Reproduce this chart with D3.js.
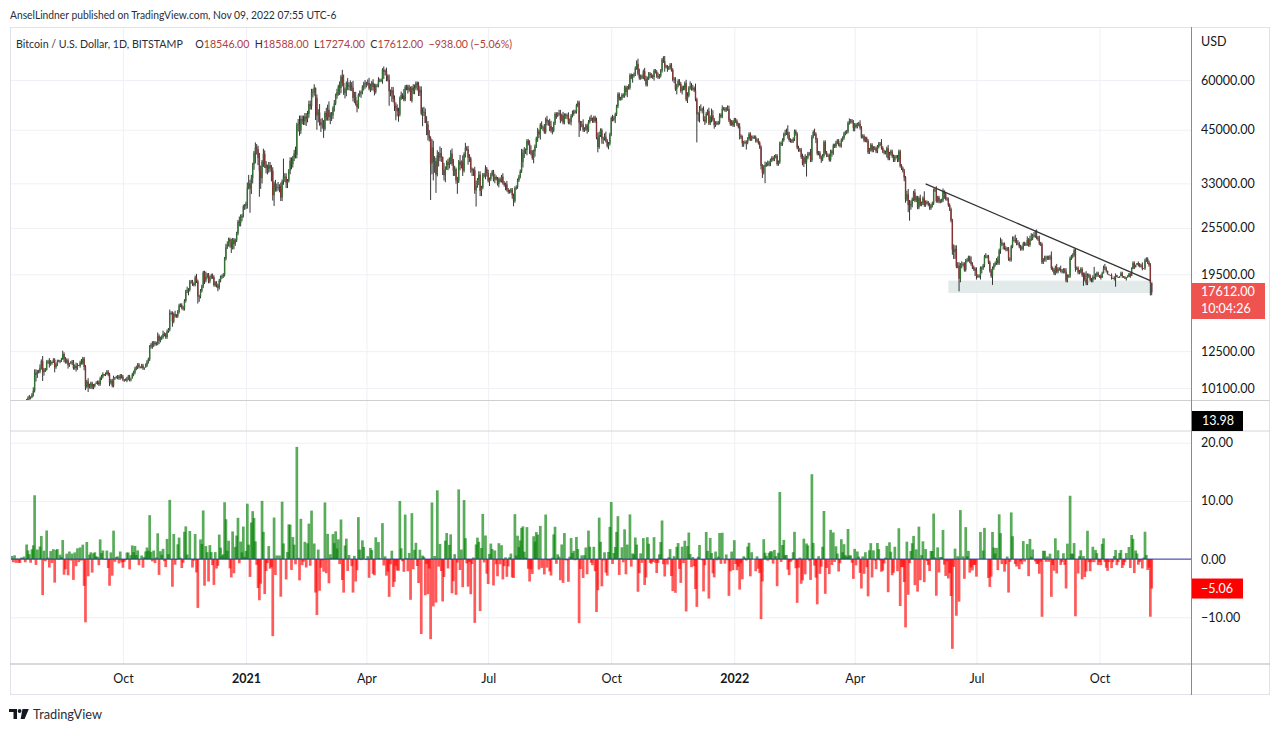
<!DOCTYPE html>
<html><head><meta charset="utf-8">
<script src="https://cdn.jsdelivr.net/npm/d3@7/dist/d3.min.js"></script>
<style>
html,body{margin:0;padding:0;background:#fff;}
svg{display:block;font-family:Lato,"Noto Sans",sans-serif;}
</style></head><body>
<svg id="chart" width="1280" height="731"></svg>
<script>
// ---------- DATA ----------
const startDate = "2020-07-09";
// daily closes (USD), one row per month
const closes = [
// 2020 Jul 9-31
9240,9290,9240,9300,9240,9250,9190,9130,9155,9170,9210,9160,9390,9530,9610,9550,9710,9940,11030,10920,11100,11110,11350,
// Aug
11800,11070,11230,11190,11740,11770,11600,11760,11680,11880,11400,11580,11780,11770,11860,11900,12290,11960,11750,11860,11530,11680,11650,11760,11340,11470,11330,11540,11480,11710,11680,
// Sep
11970,11420,10180,10480,10170,10250,10370,10130,10230,10350,10400,10440,10330,10680,10790,10950,10940,10930,11090,10920,10420,10540,10240,10740,10690,10730,10780,10700,10840,10780,
// Oct
10620,10570,10550,10670,10790,10600,10670,10920,11050,11300,11380,11550,11430,11430,11500,11330,11370,11520,11750,11920,12820,12980,12930,13120,13030,13070,13650,13280,13460,13560,13800,
// Nov
13750,13560,14030,14150,15590,15580,14840,15480,15330,15310,15700,16280,16320,16070,15970,16720,17660,17800,17820,18680,18690,18420,18370,19160,18720,17150,17140,17720,18180,19700,
// Dec
18800,19220,19450,18700,19150,19380,19180,18330,18550,18250,18040,18800,19170,19280,19440,21340,22800,23130,23860,23480,22740,23820,23240,23730,24690,26440,26250,27040,27350,28880,28990,
// 2021 Jan
29400,32200,33000,31990,34000,36800,39400,40600,40200,38200,35500,34000,37400,39150,36800,36050,35800,36600,36000,35500,30800,33000,32100,32300,32300,32500,30400,33400,34300,34300,33100,
// Feb
33500,35500,37600,36900,38300,39250,38900,46400,46500,44800,47900,47400,47200,48600,47900,49200,52200,51600,55900,55900,57400,54100,48900,49700,47000,46300,46200,45200,
// Mar
49600,48400,50500,48400,48800,48900,51000,52400,54900,55900,57800,57300,61200,59000,55600,56900,58900,57700,58100,58100,57400,54100,54400,52300,51300,55000,55900,55800,57600,58800,58800,
// Apr
58700,59000,57100,58200,59100,57600,56000,58100,58100,59800,59900,59900,63600,62900,63200,61400,60100,56200,55700,56500,53800,51700,51100,50100,49100,54000,55000,54800,53600,57700,
// May
57800,56600,57200,53200,57400,56400,57300,58900,58200,55800,56700,49400,49700,49900,46800,46400,43600,42900,37000,40600,37300,37500,34700,38800,38300,39300,38500,35700,34600,35700,37300,
// Jun
36700,37600,39200,36900,35500,35800,33600,33400,37400,36700,37300,35500,39100,40500,40200,38300,38100,35800,35500,35600,31700,32500,33700,34700,31600,32200,34700,34500,35900,35000,
// Jul
33500,33800,34700,35300,33700,34200,33900,32900,33800,33500,34300,33100,32700,32800,31800,31400,31500,31800,30800,29800,32100,32300,33600,34300,35400,37300,39400,39900,40000,42200,41500,
// Aug
39900,39200,38200,39700,40900,42800,44600,43800,46300,45600,45600,44400,47800,47100,47000,46000,44700,44800,46700,49300,48900,49300,49500,47700,48900,46900,49000,48900,48800,46900,47100,
// Sep
48800,49300,50000,49900,51800,52700,46900,46100,46400,44900,45200,46100,44900,47100,48100,47800,47300,48300,47300,43000,40700,43600,44900,42800,42700,43200,42200,41000,41500,43800,
// Oct
48100,47700,48200,49200,51500,55300,53800,53900,55000,54700,57500,56000,57400,57300,61700,60900,61500,62000,64300,65900,62200,60700,61300,60900,63100,60300,58400,60600,62200,61800,61300,
// Nov
61000,63300,62900,61400,61000,61500,63300,67500,66900,64900,64800,64200,64400,65500,63600,60100,60400,56900,58100,59700,58700,56300,57500,57100,58900,53600,54800,57300,57800,57000,
// Dec
57200,56500,53600,49200,49400,50600,50600,50500,47700,47200,49400,50100,46700,48400,48900,47700,46200,46800,46700,46900,49000,48600,50800,50800,50400,50800,50700,47500,46500,47100,46200,
// 2022 Jan
47700,47300,46400,45800,43400,43100,41600,41800,41900,41800,42700,43900,42600,43100,43100,43100,42200,42400,41700,40700,36500,35100,36300,36700,36900,36800,37200,37700,38200,37900,38500,
// Feb
38700,36900,37300,41600,41400,42400,43800,44100,44400,43600,42400,42200,42100,42600,44600,43900,40600,40000,40100,38400,37000,38300,37300,38300,39200,39100,37700,43200,
// Mar
44400,43900,42500,39200,39400,38400,37900,38700,41900,39400,38800,38800,37800,39700,39300,41100,40900,41800,42200,41300,41000,42400,42900,44000,44300,44500,46800,47100,47400,47100,45500,
// Apr
46300,45800,46400,46600,45500,43200,43400,42300,42800,42200,39500,40100,41200,39900,40500,40400,39700,40800,41500,41400,40500,39700,39400,39500,40400,38100,39200,39700,38600,37700,
// May
38500,38500,37700,39700,36500,36000,35500,34100,30100,31000,29100,28900,29300,30100,31300,29900,30400,28700,30300,29200,29400,30300,29100,29600,29500,29200,28600,29000,29400,31700,31800,
// Jun
29800,30400,29700,29800,29900,31400,31100,30200,30100,29100,28400,26600,22500,22200,22600,20400,20500,19000,20600,20600,20700,20000,21100,21200,21500,21000,20700,20300,20100,19900,
// Jul
19300,19300,19300,20200,20200,20500,21600,21600,21600,20900,19900,19300,20200,20600,20800,21200,20800,22400,23400,23200,23200,22700,22500,22600,21300,21200,22900,23800,23800,23600,23300,
// Aug
23300,22900,22800,22600,23300,23200,23200,23800,23100,23900,24000,24400,24400,24300,24100,23900,23300,23200,20900,21200,21500,21400,21500,21400,21600,20200,20000,19600,20300,19800,20100,
// Sep
20100,19900,19800,20000,19800,18800,19300,19300,21400,21600,21800,22400,20200,20200,19700,19800,20100,19400,19500,18900,18500,19400,19300,18900,18800,19200,19100,19400,19600,19400,
// Oct
19300,19100,19600,20300,20200,19900,19500,19400,19400,19100,19000,19100,19400,19200,19100,19300,19600,19300,19100,19000,19200,19200,19600,19300,20100,20800,20300,20600,20800,20600,20500,
// Nov 1-9
20480,20150,20200,21150,21300,20900,20590,18550,17612
];
// upper wick, % above the candle body
const wickHi = [
1,0,1,1,0,1,0,1,0,1,1,0,1,1,1,0,1,2,2,2,1,1,2,
1,3,1,1,1,1,2,1,0,1,1,1,1,1,0,1,2,1,1,1,1,0,1,1,1,1,2,1,0,1,2,
1,1,1,1,2,1,1,1,1,0,1,1,1,1,1,1,0,1,1,1,1,1,1,1,0,1,1,1,1,1,
1,0,1,1,1,1,0,1,1,1,1,1,1,0,1,1,0,1,1,1,1,1,2,1,1,1,2,1,1,1,2,
1,1,1,1,2,1,1,1,2,1,1,1,1,1,1,1,1,2,1,1,1,1,1,1,2,1,1,1,1,1,
1,3,1,1,1,1,1,1,1,1,1,1,1,1,1,1,2,2,1,1,2,1,1,1,1,1,3,2,1,1,1,
1,3,5,2,2,1,1,3,2,2,3,3,1,3,2,2,2,2,2,2,2,1,2,2,3,1,2,1,11,2,2,
1,1,2,2,1,2,4,1,3,5,2,2,3,2,2,2,2,2,2,2,2,0,2,2,5,2,4,3,
1,3,3,5,2,2,1,2,1,2,1,3,1,4,5,1,1,3,2,3,2,4,3,3,2,1,1,1,1,1,2,
1,2,3,1,1,2,2,1,1,2,1,1,1,2,1,2,1,3,1,2,2,2,2,2,2,1,2,1,4,1,
1,1,2,1,1,2,2,1,1,2,2,2,3,3,2,4,2,3,1,5,4,3,2,3,2,4,3,0,4,2,1,
2,2,2,3,3,2,1,2,1,4,1,4,1,3,1,2,2,1,1,1,2,3,1,2,2,1,1,1,2,1,
2,1,1,1,1,2,1,1,1,1,1,2,1,1,2,1,1,1,1,1,1,1,1,1,1,8,2,2,1,1,1,
2,3,2,1,1,1,2,1,1,2,1,2,1,2,1,2,3,2,1,1,1,1,2,2,1,2,1,1,1,2,2,
1,2,1,1,1,1,1,1,2,3,1,1,1,1,1,2,1,1,1,2,3,2,1,1,1,2,3,1,1,1,
1,2,1,1,1,1,1,1,1,1,1,1,1,2,1,1,1,1,1,2,3,3,1,1,1,2,2,1,1,1,1,
1,1,1,1,2,1,1,1,2,3,1,1,1,1,1,1,1,1,1,1,1,1,1,1,1,2,2,1,3,2,
2,1,4,1,1,2,3,1,2,2,1,1,2,1,4,3,1,1,1,1,1,1,2,1,1,1,2,2,1,1,1,
1,1,1,1,2,1,1,1,1,1,1,1,1,1,1,1,1,1,1,1,1,1,1,2,1,2,1,1,1,1,1,
1,1,1,1,1,1,1,2,2,4,2,1,1,1,1,1,1,1,1,1,2,1,2,1,1,1,3,1,
1,2,1,1,1,1,1,1,1,1,1,1,1,1,1,1,1,1,1,1,1,1,1,1,1,1,1,2,1,1,1,
1,1,1,1,2,1,1,1,1,1,1,1,1,1,1,1,1,1,1,1,3,1,1,1,1,2,1,1,1,1,
1,1,1,1,1,1,1,1,1,2,3,3,2,1,1,2,1,1,1,2,1,1,4,1,1,1,1,1,1,1,1,
2,1,1,1,1,2,1,1,1,1,1,1,1,3,2,2,2,2,1,2,1,1,1,1,1,1,3,1,1,1,
2,1,1,1,1,1,1,2,1,1,1,1,1,1,1,1,2,1,3,2,1,1,1,1,1,1,1,2,2,3,2,
2,1,1,1,1,1,1,2,1,2,3,1,2,3,4,1,2,1,1,1,1,1,1,1,1,3,1,1,1,2,1,
1,2,1,1,1,2,1,1,1,1,1,1,1,1,1,1,1,1,1,1,5,1,1,1,1,1,6,1,1,1,
0,1,1,1,2,1,0,0,0,1,0,1,1,0,0,0,1,1,0,1,0,1,0,0,1,1,1,0,0,1,1,
1,2,0,1,1,1,1,1,0
];
// lower wick, % below the candle body
const wickLo = [
1,1,0,1,1,0,1,1,1,0,1,1,0,1,1,1,0,1,1,4,2,1,1,
1,5,2,1,0,1,2,1,1,0,3,1,1,0,1,1,0,2,1,1,2,1,0,1,1,1,2,1,0,1,1,
1,2,2,1,3,1,2,1,1,1,0,1,1,1,1,1,1,1,0,1,2,1,1,1,1,0,1,1,1,1,
1,1,0,1,1,1,1,0,1,1,1,1,1,1,1,1,1,0,1,1,1,1,2,1,1,1,1,2,1,1,1,
1,1,1,1,1,1,3,1,1,1,1,1,1,1,1,1,1,1,3,1,1,1,1,1,1,4,3,1,1,1,
2,1,1,1,1,1,1,1,1,1,2,1,1,1,1,1,1,1,1,3,3,1,3,1,1,1,2,2,2,1,2,
2,3,1,13,3,3,3,6,3,4,14,6,3,3,2,3,3,2,2,6,3,6,2,2,2,3,2,2,2,3,3,
3,1,2,3,2,2,2,2,4,3,2,2,2,2,4,2,2,2,2,3,2,12,8,4,2,4,2,5,
1,2,2,2,4,3,2,2,1,2,2,4,3,2,1,3,4,2,2,3,2,2,3,1,3,1,1,3,1,2,3,
2,1,1,2,3,2,2,1,1,1,1,1,2,4,2,3,1,8,2,5,2,3,7,3,4,1,1,2,1,1,
2,2,1,0,1,2,2,1,3,2,2,1,7,2,0,6,3,2,19,6,10,6,10,1,5,2,3,3,3,4,0,
3,2,2,1,3,3,2,7,1,3,2,3,1,2,1,4,2,2,3,3,2,9,1,3,3,3,1,1,2,2,
1,3,1,1,1,2,1,1,2,1,1,1,1,3,1,1,1,1,2,3,1,1,1,1,1,1,3,3,2,3,1,
2,1,1,3,3,1,2,2,3,1,2,1,1,2,2,3,1,2,1,1,2,1,1,2,1,1,1,2,2,1,1,
2,1,1,1,1,1,8,3,1,1,1,1,2,1,1,1,1,1,1,1,3,1,1,3,3,1,1,1,2,1,
1,1,1,3,1,1,1,1,1,1,1,2,3,1,1,1,3,1,1,1,1,1,1,1,1,1,1,1,1,2,1,
1,2,1,1,1,1,1,1,1,3,1,2,1,1,1,1,2,1,3,1,1,1,2,1,1,1,2,1,1,1,
1,1,1,15,4,5,1,2,1,2,1,1,1,1,3,1,2,1,1,1,1,1,1,1,1,1,1,1,1,1,1,
1,1,1,1,2,1,2,2,1,4,1,1,1,1,1,1,1,1,1,1,2,3,1,9,1,1,1,2,1,1,1,
1,1,1,1,1,1,1,1,1,2,1,1,1,1,1,1,1,1,1,1,1,2,1,8,1,1,1,1,
1,1,2,1,1,1,2,1,1,1,1,1,1,1,2,1,1,1,1,1,1,1,1,1,1,1,1,1,1,1,2,
2,1,1,1,1,1,1,1,1,1,1,1,1,1,1,1,1,1,1,1,1,1,1,1,3,1,1,1,1,1,
1,1,1,1,1,1,1,2,2,1,4,8,2,2,1,1,1,1,1,1,1,1,1,1,1,1,1,1,1,1,1,
1,1,1,1,1,1,3,1,1,1,1,1,3,4,4,1,1,7,2,2,1,1,1,1,1,1,1,1,1,3,
2,1,1,2,3,1,1,1,1,1,1,1,5,1,1,1,1,1,2,1,3,1,1,1,1,1,1,1,1,1,1,
1,1,2,1,1,1,1,1,1,1,1,1,1,1,1,1,1,1,1,1,1,2,1,1,1,1,1,1,1,1,1,
1,1,1,1,1,1,1,1,1,1,1,1,2,1,1,1,1,1,6,1,1,1,1,1,1,1,1,1,1,1,
1,1,0,0,1,1,0,0,0,1,0,1,5,0,0,0,0,1,0,0,1,0,0,1,0,0,1,0,0,1,1,
1,1,0,1,1,1,1,7,2
];
const lastBar = {open:18546, high:18588, low:17274, close:17612, change:-938, pct:-5.06};
const priceTicks = [60000,45000,33000,25500,19500,12500,10100];
const pctTicks = [20,10,0,-10];
const timeTicks = ["2020-10-01","2021-01-01","2021-04-01","2021-07-01","2021-10-01","2022-01-01","2022-04-01","2022-07-01","2022-10-01"];
const timeTickLabels = ["Oct","2021","Apr","Jul","Oct","2022","Apr","Jul","Oct"];
const boldTickLabels = ["2021","2022"];
const trendLine = [["2022-05-24",32900],["2022-11-08",18800]];
const supportZone = {from:"2022-06-10", to:"2022-11-10", low:17500, high:18800};
const headerText = "AnselLindner published on TradingView.com, Nov 09, 2022 07:55 UTC-6";
const symbolText = "Bitcoin / U.S. Dollar, 1D, BITSTAMP";
const paneValue = 13.98;
const countdown = "10:04:26";

// ---------- BUILD ----------
const parse = d3.utcParse("%Y-%m-%d");
const t0 = parse(startDate);
const data = closes.map((c,i)=>({date:d3.utcDay.offset(t0,i), close:c}));
for (let i=1;i<data.length;i++){
  const d=data[i], o=closes[i-1];
  d.open=o;
  d.high=Math.max(o,d.close)*(1+(wickHi[i]||0)/100);
  d.low=Math.min(o,d.close)*(1-(wickLo[i]||0)/100);
  d.pct=(d.close-o)/o*100;
}
const last=data[data.length-1];
last.open=lastBar.open; last.high=lastBar.high; last.low=lastBar.low;
const bars=data.slice(1);

const L=10, R=1191, FR=1270, TOP=27, P1B=400.5, P3T=431, AXT=664, BOT=695;
const x = d3.scaleUtc().domain([parse("2021-01-01"), parse("2022-01-01")]).range([246, 734.3]);
const y = d3.scaleLog().domain([10100,60000]).range([388,80]);
const yp = d3.scaleLinear().domain([-10,20]).range([617.3,442.7]);

const svg=d3.select("#chart");
const defs=svg.append("defs");
defs.append("clipPath").attr("id","cp1").append("rect").attr("x",L).attr("y",TOP).attr("width",R-L).attr("height",P1B-TOP);
defs.append("clipPath").attr("id","cp3").append("rect").attr("x",L).attr("y",P3T).attr("width",R-L).attr("height",AXT-P3T);

const gridColor="#eef0f5";
// vertical grid
svg.append("g").attr("transform",`translate(0,${AXT})`)
  .call(d3.axisBottom(x).tickValues(timeTicks.map(parse)).tickSize(-(AXT-TOP)).tickFormat(""))
  .call(g=>{g.select(".domain").remove(); g.selectAll("line").attr("stroke",gridColor);});
// horizontal grid, price pane
svg.append("g").attr("transform",`translate(${L},0)`)
  .call(d3.axisLeft(y).tickValues(priceTicks).tickSize(-(R-L)).tickFormat(""))
  .call(g=>{g.select(".domain").remove(); g.selectAll("line").attr("stroke",gridColor);});
// horizontal grid, oscillator pane
svg.append("g").attr("transform",`translate(${L},0)`)
  .call(d3.axisLeft(yp).tickValues(pctTicks).tickSize(-(R-L)).tickFormat(""))
  .call(g=>{g.select(".domain").remove(); g.selectAll("line").attr("stroke",gridColor);});

// support zone
const pg=svg.append("g").attr("clip-path","url(#cp1)");
pg.append("rect")
  .attr("x",x(parse(supportZone.from))).attr("width",x(parse(supportZone.to))-x(parse(supportZone.from)))
  .attr("y",y(supportZone.high)).attr("height",y(supportZone.low)-y(supportZone.high))
  .attr("fill","#e2eaea");
// candles
pg.append("g").selectAll("line").data(bars).join("line")
  .attr("x1",d=>x(d.date)).attr("x2",d=>x(d.date))
  .attr("y1",d=>y(d.high)).attr("y2",d=>y(d.low))
  .attr("stroke","#1e1e1e").attr("stroke-width",0.9);
pg.append("g").selectAll("rect").data(bars).join("rect")
  .attr("x",d=>x(d.date)-0.7).attr("width",1.4)
  .attr("y",d=>y(Math.max(d.open,d.close)))
  .attr("height",d=>Math.max(0.8,y(Math.min(d.open,d.close))-y(Math.max(d.open,d.close))))
  .attr("fill",d=>d.close>=d.open?"#2f732f":"#843434");
// trend line
pg.append("line")
  .attr("x1",x(parse(trendLine[0][0]))).attr("y1",y(trendLine[0][1]))
  .attr("x2",x(parse(trendLine[1][0]))).attr("y2",y(trendLine[1][1]))
  .attr("stroke","#333").attr("stroke-width",1.3);

// histogram
const hg=svg.append("g").attr("clip-path","url(#cp3)");
hg.selectAll("rect").data(bars).join("rect")
  .attr("x",d=>x(d.date)-1.35).attr("width",2.7)
  .attr("y",d=>yp(Math.max(0,d.pct)))
  .attr("height",d=>Math.abs(yp(d.pct)-yp(0)))
  .attr("fill",d=>d.pct>=0?"rgba(0,128,0,0.65)":"rgba(255,0,0,0.65)");
hg.append("line").attr("x1",L).attr("x2",R).attr("y1",yp(0)).attr("y2",yp(0))
  .attr("stroke","#2b2f9e").attr("stroke-width",1);

// frame & separators
svg.append("rect").attr("x",L+0.5).attr("y",TOP+0.5).attr("width",FR-L-1).attr("height",BOT-TOP-1)
  .attr("fill","none").attr("stroke","#e0e3eb");
svg.append("line").attr("x1",L).attr("x2",FR).attr("y1",P1B).attr("y2",P1B).attr("stroke","#d0d0d0");
svg.append("line").attr("x1",L).attr("x2",FR).attr("y1",P3T).attr("y2",P3T).attr("stroke","#d6d6d6");
svg.append("line").attr("x1",L).attr("x2",FR).attr("y1",AXT).attr("y2",AXT).attr("stroke","#b2b5be");
svg.append("line").attr("x1",R+0.5).attr("x2",R+0.5).attr("y1",TOP).attr("y2",BOT).attr("stroke","#8a8a8a");

const txt="#131722", fs="12.5px";
// price axis
svg.append("g").attr("transform",`translate(${R},0)`)
  .call(d3.axisRight(y).tickValues(priceTicks).tickSize(0).tickPadding(10).tickFormat(d3.format(".2f")))
  .call(g=>{g.select(".domain").remove(); g.selectAll("text").attr("fill",txt).style("font-size",fs).style("font-family","Lato");});
svg.append("text").attr("x",R+10).attr("y",42).attr("dy","0.35em").attr("fill",txt).style("font-size",fs).text("USD");
// oscillator axis
svg.append("g").attr("transform",`translate(${R},0)`)
  .call(d3.axisRight(yp).tickValues(pctTicks).tickSize(0).tickPadding(10).tickFormat(d3.format(".2f")))
  .call(g=>{g.select(".domain").remove(); g.selectAll("text").attr("fill",txt).style("font-size",fs).style("font-family","Lato");});
// time axis
svg.append("g").attr("transform",`translate(0,${AXT})`)
  .call(d3.axisBottom(x).tickValues(timeTicks.map(parse)).tickSize(0).tickPadding(10).tickFormat((d,i)=>timeTickLabels[i]))
  .call(g=>{g.select(".domain").remove();
    g.selectAll("text").attr("fill",txt).style("font-size",fs).style("font-family","Lato")
     .style("font-weight",function(){return boldTickLabels.includes(this.textContent)?"700":"400";});});

// last price label
const lp=y(lastBar.close);
svg.append("rect").attr("x",R+1).attr("y",283).attr("width",73).attr("height",36).attr("fill","#ef5350");
svg.append("text").attr("x",R+10).attr("y",lp).attr("dy","0.35em").attr("fill","#fff").style("font-size",fs).text(d3.format(".2f")(lastBar.close));
svg.append("text").attr("x",R+10).attr("y",lp+17).attr("dy","0.35em").attr("fill","#fff").style("font-size",fs).text(countdown);
// pane value label
svg.append("rect").attr("x",R+1).attr("y",411).attr("width",51).attr("height",20).attr("fill","#000");
svg.append("text").attr("x",R+11).attr("y",421).attr("dy","0.35em").attr("fill","#fff").style("font-size",fs).text(d3.format(".2f")(paneValue));
// last pct label
const lpp=yp(last.pct);
svg.append("rect").attr("x",R+1).attr("y",lpp-10).attr("width",51).attr("height",20).attr("fill","#ff0000");
svg.append("text").attr("x",R+10).attr("y",lpp).attr("dy","0.35em").attr("fill","#fff").style("font-size",fs).text(d3.format(".2f")(last.pct));

// header lines
function fitX(sel,x0,target){
  const w=sel.node().getComputedTextLength();
  sel.attr("x",0).attr("transform",`translate(${x0},0) scale(${target/w},1)`);
}
const h1=svg.append("text").attr("y",15).attr("dy","0.35em").attr("fill","#2a2e39").style("font-size","12px").text(headerText);
fitX(h1,10,327);
const h2=svg.append("text").attr("y",44).attr("dy","0.35em").style("font-size","12px");
const red="#b0413e", f2=d3.format(".2f");
h2.append("tspan").attr("fill","#2a2e39").text(symbolText);
[["O",lastBar.open],["H",lastBar.high],["L",lastBar.low],["C",lastBar.close]].forEach(([k,v],i)=>{
  h2.append("tspan").attr("dx",i===0?14:6).attr("fill","#2a2e39").text(k);
  h2.append("tspan").attr("fill",red).text(f2(v));
});
h2.append("tspan").attr("dx",6).attr("fill",red).text(`${f2(lastBar.change)} (${f2(lastBar.pct)}%)`);
fitX(h2,16,463);

// footer logo
const lg=svg.append("g").attr("fill","#131722");
lg.append("path").attr("d","M9,709 H17 V719 H13.5 V712 H9 Z");
lg.append("circle").attr("cx",19.6).attr("cy",711).attr("r",1.9);
lg.append("path").attr("d","M22.5,709 H28.8 L24.6,719 H20.6 Z");
const ft=svg.append("text").attr("y",714).attr("dy","0.35em").attr("fill","#2a2e39").style("font-size","13px").text("TradingView");
fitX(ft,33,69);
</script></body></html>
